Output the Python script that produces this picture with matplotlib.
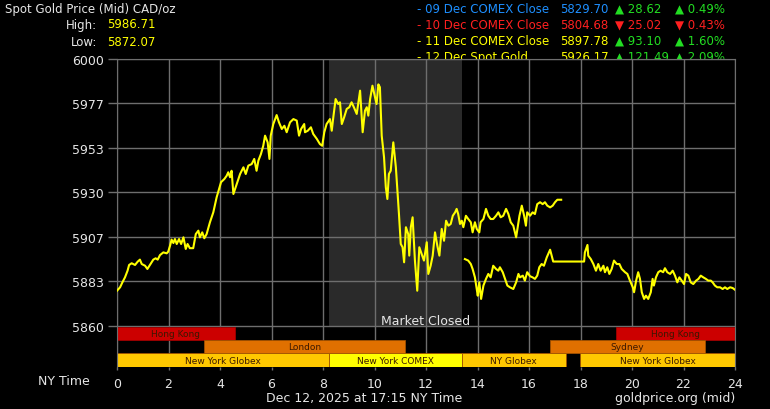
import matplotlib

matplotlib.use("Agg")
import matplotlib.pyplot as plt
import matplotlib.transforms as mtransforms
import numpy as np

W, H = 770, 410

# 12 Dec spot gold (hours NY time, CAD/oz)
today_hours = [
    0.00, 0.12, 0.21, 0.31, 0.41, 0.47, 0.57, 0.70, 0.80, 0.89, 0.96, 1.09, 1.18, 1.28, 1.41,
    1.50, 1.58, 1.67, 1.80, 1.93, 1.99, 2.06, 2.12, 2.19, 2.25, 2.32, 2.41, 2.49, 2.58, 2.67,
    2.74, 2.83, 2.96, 3.06, 3.16, 3.22, 3.31, 3.39, 3.48, 3.61, 3.74, 3.83, 3.87, 4.00, 4.04,
    4.17, 4.26, 4.32, 4.39, 4.45, 4.52, 4.65, 4.78, 4.91, 5.00, 5.10, 5.23, 5.33, 5.42, 5.49,
    5.59, 5.68, 5.75, 5.85, 5.92, 5.97, 6.07, 6.20, 6.29, 6.40, 6.50, 6.59, 6.72, 6.85, 6.98,
    7.07, 7.15, 7.27, 7.30, 7.41, 7.53, 7.62, 7.76, 7.88, 7.97, 8.05, 8.14, 8.27, 8.34, 8.40,
    8.49, 8.59, 8.66, 8.73, 8.82, 8.92, 9.02, 9.11, 9.20, 9.31, 9.44, 9.54, 9.63, 9.70, 9.76,
    9.83, 9.92, 10.02, 10.08, 10.15, 10.21, 10.28, 10.37, 10.44, 10.50, 10.56, 10.63, 10.73,
    10.83, 10.95, 11.02, 11.09, 11.15, 11.22, 11.31, 11.35, 11.41, 11.48, 11.57, 11.66, 11.74,
    11.83, 11.92, 12.03, 12.09, 12.18, 12.26, 12.35, 12.44, 12.52, 12.61, 12.70, 12.78, 12.87,
    12.96, 13.04, 13.13, 13.19, 13.25, 13.32, 13.39, 13.45, 13.55, 13.64, 13.74, 13.81, 13.90,
    13.97, 14.07, 14.12, 14.23, 14.33, 14.42, 14.51, 14.61, 14.72, 14.81, 14.90, 15.00, 15.11,
    15.20, 15.29, 15.39, 15.50, 15.55, 15.63, 15.72, 15.81, 15.88, 15.93, 16.04, 16.14, 16.23,
    16.32, 16.43, 16.53, 16.62, 16.71, 16.82, 16.92, 17.01, 17.10, 17.25,
]
today_prices = [
    5878.5, 5880.3, 5882.9, 5885.5, 5889.0, 5892.0, 5892.9, 5892.0, 5893.7, 5894.8, 5892.5, 5891.6, 5889.9, 5892.0, 5894.8,
    5895.5, 5894.8, 5897.2, 5898.6, 5898.1, 5899.0, 5902.1, 5905.3, 5903.5, 5905.6, 5903.0, 5905.6, 5903.0, 5906.5, 5900.4,
    5903.0, 5900.8, 5900.8, 5908.2, 5910.0, 5906.5, 5909.1, 5906.0, 5908.2, 5914.4, 5919.6, 5924.9, 5927.5, 5933.6, 5935.4,
    5937.1, 5938.8, 5940.6, 5938.0, 5941.4, 5929.2, 5934.5, 5939.7, 5943.2, 5939.7, 5944.1, 5944.9, 5947.6, 5941.4, 5946.7,
    5950.2, 5954.5, 5959.8, 5956.3, 5947.6, 5959.8, 5965.9, 5970.6, 5966.8, 5963.3, 5965.0, 5961.6, 5966.8, 5968.5, 5967.7,
    5959.8, 5963.3, 5965.9, 5961.6, 5962.4, 5964.2, 5960.7, 5958.1, 5955.4, 5954.5, 5961.6, 5965.9, 5968.5, 5962.4, 5969.4,
    5979.0, 5976.4, 5977.3, 5965.9, 5969.4, 5973.8, 5974.7, 5977.3, 5974.7, 5971.2, 5983.4, 5961.6, 5972.9, 5974.7, 5970.3,
    5979.0, 5986.0, 5979.9, 5976.4, 5986.7, 5985.2, 5959.8, 5948.5, 5932.7, 5926.6, 5939.7, 5941.4, 5956.3,
    5943.2, 5918.7, 5903.0, 5901.3, 5893.4, 5911.8, 5908.2, 5896.9, 5911.8, 5917.0, 5894.3, 5878.5, 5901.3,
    5897.8, 5894.3, 5903.9, 5887.3, 5891.6, 5896.9, 5909.1, 5902.1, 5896.9, 5910.9, 5904.7, 5915.2, 5912.6,
    5913.5, 5917.8, 5919.6, 5921.4, 5918.7, 5913.5, 5915.2, 5911.8, 5917.8, 5916.1, 5914.4, 5909.1, 5914.4,
    5910.9, 5909.1, 5914.4, 5916.1, 5921.4, 5917.8, 5916.1, 5916.1, 5917.8, 5919.6, 5917.0, 5917.8, 5921.4,
    5918.7, 5914.4, 5912.6, 5906.5, 5910.9, 5917.8, 5923.1, 5917.8, 5912.6, 5919.6, 5917.8, 5919.6, 5918.7,
    5923.9, 5924.9, 5923.9, 5924.9, 5923.1, 5922.2, 5923.1, 5924.9, 5926.2, 5926.2,
]

# 11 Dec tail, shown after the COMEX close
prev_hours = [
    13.51, 13.64, 13.74, 13.81, 13.90, 13.97, 14.01, 14.07, 14.14, 14.23, 14.33, 14.42, 14.51, 14.61,
    14.72, 14.81, 14.87, 14.98, 15.07, 15.16, 15.26, 15.39, 15.50, 15.59, 15.65, 15.76, 15.84, 15.93,
    16.04, 16.14, 16.23, 16.32, 16.40, 16.49, 16.58, 16.69, 16.82, 16.94, 18.14, 18.17, 18.27, 18.30,
    18.40, 18.50, 18.60, 18.69, 18.78, 18.89, 18.95, 19.04, 19.12, 19.21, 19.30, 19.41, 19.51, 19.60,
    19.73, 19.82, 19.92, 20.03, 20.08, 20.16, 20.24, 20.31, 20.38, 20.47, 20.54, 20.63, 20.73, 20.80,
    20.85, 20.93, 21.02, 21.11, 21.21, 21.28, 21.37, 21.48, 21.58, 21.67, 21.76, 21.84, 21.93, 22.02,
    22.10, 22.19, 22.28, 22.38, 22.49, 22.58, 22.67, 22.77, 22.87, 22.96, 23.06, 23.13, 23.22, 23.31,
    23.42, 23.52, 23.61, 23.70, 23.81, 23.91, 24.00,
]
prev_prices = [
    5895.1, 5894.3, 5892.5, 5889.9, 5885.5, 5879.4, 5875.9, 5882.9, 5874.2, 5881.2, 5884.7, 5887.3, 5885.5, 5891.6,
    5889.9, 5889.0, 5890.8, 5888.2, 5884.7, 5881.2, 5880.3, 5879.4, 5882.9, 5887.3, 5885.5, 5886.4, 5883.8, 5888.2,
    5886.1, 5885.5, 5884.7, 5886.4, 5890.8, 5892.5, 5891.6, 5896.0, 5900.0, 5893.8, 5893.8, 5898.6, 5902.5, 5896.9,
    5895.1, 5892.5, 5889.0, 5892.5, 5889.0, 5891.6, 5888.2, 5890.8, 5887.3, 5889.9, 5894.3, 5892.5, 5892.5, 5889.9,
    5888.2, 5887.3, 5883.8, 5880.3, 5877.7, 5883.8, 5888.2, 5884.7, 5877.7, 5874.2, 5875.9, 5874.2, 5877.7, 5884.7,
    5881.2, 5885.5, 5888.2, 5889.0, 5888.2, 5890.3, 5888.2, 5887.3, 5889.0, 5886.4, 5882.9, 5885.5, 5883.8, 5882.0,
    5887.3, 5886.4, 5882.9, 5882.0, 5883.8, 5884.7, 5886.4, 5885.5, 5884.7, 5883.8, 5883.8, 5882.9, 5881.2, 5880.3,
    5880.3, 5879.4, 5880.3, 5879.4, 5880.3, 5879.9, 5879.0,
]

# market sessions (NY time hours)
session_names = ["Hong Kong", "Hong Kong", "London", "Sydney",
                 "New York Globex", "New York COMEX", "NY Globex", "New York Globex"]
session_start = [0.0, 19.38, 3.38, 16.8, 0.0, 8.25, 13.4, 17.98]
session_end = [4.58, 24.0, 11.17, 22.84, 8.25, 13.4, 17.42, 24.0]
closed_start, closed_end = 8.25, 13.4

# legend rows: label, close, change, pct
legend_labels = ["- 09 Dec COMEX Close", "- 10 Dec COMEX Close", "- 11 Dec COMEX Close", "- 12 Dec Spot Gold"]
legend_close = ["5829.70", "5804.68", "5897.78", "5926.17"]
legend_change = ["▲ 28.62", "▼ 25.02", "▲ 93.10", "▲ 121.49"]
legend_pct = ["▲ 0.49%", "▼ 0.43%", "▲ 1.60%", "▲ 2.09%"]

day_high, day_low = "5986.71", "5872.07"

plt.rcParams["font.family"] = ["DejaVu Sans"]
GRID = "#6e6e6e"
TXT = "#e6e6e6"
YEL = "#ffff00"

fig = plt.figure(figsize=(W / 100, H / 100), dpi=100, facecolor="black")
ax = fig.add_axes([117 / W, 1 - 368 / H, 618 / W, 308 / H], facecolor="black")
ax.set_xlim(0, 24)
ax.set_ylim(5838.5, 6000)

yt = np.linspace(5860, 6000, 7)
ax.set_yticks(yt)
ax.set_yticklabels([f"{v:.0f}" for v in yt])
ax.set_xticks(range(0, 25, 2))
ax.tick_params(axis="y", colors=GRID, labelcolor=TXT, labelsize=9, length=6.5, width=1, pad=3)
ax.tick_params(axis="x", colors=GRID, labelcolor=TXT, labelsize=9, length=2.5, width=1, pad=5)
for s in ["left", "right", "top"]:
    ax.spines[s].set_color(GRID)
ax.spines["bottom"].set_visible(False)
ax.set_axisbelow(True)
ax.grid(True, color=GRID, lw=1)

bt = mtransforms.blended_transform_factory(ax.transData, ax.transAxes)
band_top = 0.132
ax.add_patch(plt.Rectangle((closed_start, band_top), closed_end - closed_start, 1 - band_top,
                           transform=bt, facecolor="#2a2a2a", edgecolor="none", zorder=0.2))
ax.text(12.0, 0.152, "Market Closed", transform=bt, ha="center", va="center",
        color=TXT, fontsize=9, zorder=4)

row_of = {"Hong Kong": (0.0867, "#cc0000"), "London": (0.044, "#e07000"), "Sydney": (0.044, "#e07000"),
          "New York COMEX": (0.0, "#ffff00")}
row_h = 0.044
for name, a, b in zip(session_names, session_start, session_end):
    y0, col = row_of.get(name, (0.0, "#ffc800"))
    ax.add_patch(plt.Rectangle((a, y0), b - a, row_h, transform=bt, facecolor=col,
                               edgecolor="#a05000" if col != "#cc0000" else "#a00000", lw=0.6, zorder=2))
    ax.text((a + b) / 2, y0 + row_h / 2, name, transform=bt, ha="center", va="center",
            fontsize=6.5, color="#3a1800", zorder=2.5)

ax.plot(prev_hours, prev_prices, color=YEL, lw=1.5, zorder=3)
ax.plot(today_hours, today_prices, color=YEL, lw=1.5, zorder=3)


def ftext(x, y, s, **kw):
    return fig.text(x / W, 1 - y / H, s, va="center", **kw)


ftext(5, 9, "Spot Gold Price (Mid) CAD/oz", color=TXT, fontsize=8.5)
ftext(97, 25, "High:", color=TXT, fontsize=8.5, ha="right")
ftext(107, 25, day_high, color=YEL, fontsize=8.5)
ftext(97, 43, "Low:", color=TXT, fontsize=8.5, ha="right")
ftext(107, 43, day_low, color=YEL, fontsize=8.5)

row_cols = ["#1e8fff", "#ff2020", YEL, YEL]
for i, (lab, cl, ch, pc) in enumerate(zip(legend_labels, legend_close, legend_change, legend_pct)):
    y = 9.5 + 16 * i
    z = -1 if i == 3 else 3
    chg_col = "#ff2020" if ch.startswith("▼") else "#22dd22"
    ftext(417, y, lab, color=row_cols[i], fontsize=8.5, zorder=z)
    ftext(560, y, cl, color=row_cols[i], fontsize=8.5, zorder=z)
    ftext(615, y, ch, color=chg_col, fontsize=8.5, zorder=z)
    ftext(675, y, pc, color=chg_col, fontsize=8.5, zorder=z)

ftext(90, 382, "NY Time", color=TXT, fontsize=9, ha="right")
ftext(364, 399, "Dec 12, 2025 at 17:15 NY Time", color=TXT, fontsize=9, ha="center")
ftext(735, 399, "goldprice.org (mid)", color=TXT, fontsize=9, ha="right")

fig.savefig("out.png", dpi=100, facecolor="black")
